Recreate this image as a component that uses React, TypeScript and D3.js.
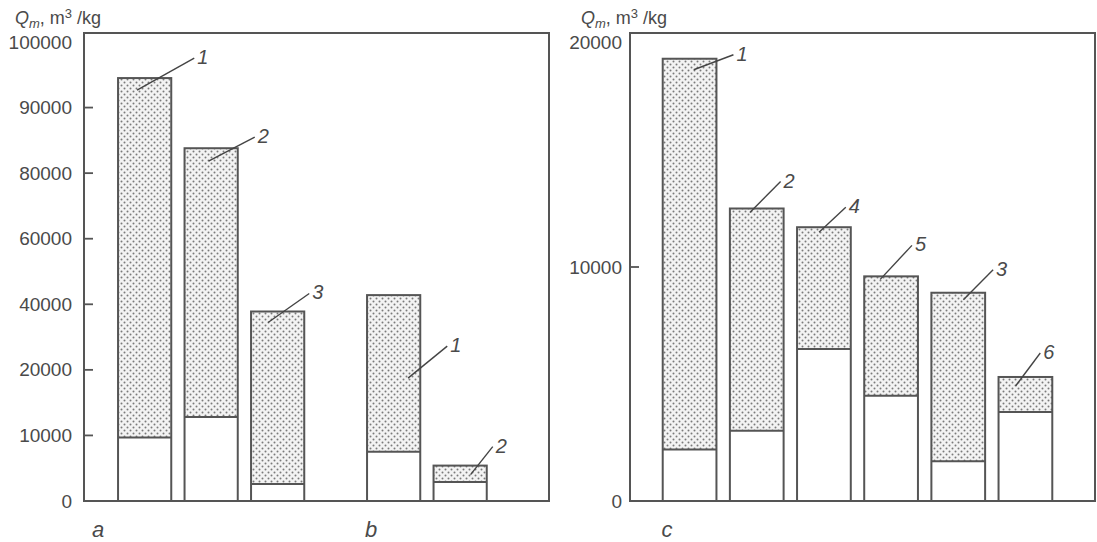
import React, { useEffect, useRef } from 'react';
import * as d3 from 'd3';

// panel a / b (left)
const leftTicks = [0, 10000, 20000, 40000, 60000, 80000, 90000, 100000];
const groupALabels = ['1', '2', '3'];
const groupATotal = [94500, 83800, 37800];
const groupABase = [9700, 12800, 2600];
const groupBLabels = ['1', '2'];
const groupBTotal = [42800, 5400];
const groupBBase = [7500, 2900];

// panel c (right)
const rightTicks = [0, 10000, 20000];
const groupCLabels = ['1', '2', '4', '5', '3', '6'];
const groupCTotal = [18900, 12500, 11700, 9600, 8900, 5300];
const groupCBase = [2200, 3000, 6500, 4500, 1700, 3800];

// leader line offsets: [start dx from bar left, start dy from top, end dx from bar right, end dy from top]
const leaderA = [[19, 12, 23, -20], [24, 13, 17, -11], [17, 11, 5, -18]];
const leaderB = [[41, 83, 27, 51], [37, 9, 6, -19]];
const leaderC = [[31, 11, 17, -4], [20, 4, -3, -27], [22, 5, -5, -20], [16, 3, -6, -31], [32, 7, 8, -23], [17, 9, -12, -24]];

const W = 1097, H = 542;
const font = '"Liberation Sans", Arial, sans-serif';
const ink = '#4a4a4a';

const App = () => {
    const svgRef = useRef(null);

    useEffect(() => {
        const svg = d3.select(svgRef.current);
        svg.selectAll('*').remove();

        // dotted fill
        const pat = svg.append('defs').append('pattern')
            .attr('id', 'dots')
            .attr('patternUnits', 'userSpaceOnUse')
            .attr('width', 6).attr('height', 6);
        pat.append('rect').attr('width', 6).attr('height', 6).attr('fill', '#f3f3f3');
        pat.append('circle').attr('cx', 1.5).attr('cy', 1.5).attr('r', 1).attr('fill', '#7a7a7a');
        pat.append('circle').attr('cx', 4.5).attr('cy', 4.5).attr('r', 1).attr('fill', '#7a7a7a');

        const bottom = 501, top = 33, topTick = 42;

        const drawTitle = (x) => {
            const t = svg.append('text')
                .attr('x', x).attr('y', 24)
                .style('font-family', font).style('font-size', '18px').attr('fill', ink);
            t.append('tspan').text('Q').style('font-style', 'italic');
            t.append('tspan').text('m').style('font-style', 'italic').style('font-size', '13px').attr('dy', 4);
            t.append('tspan').text(', m').attr('dy', -4);
            t.append('tspan').text('3').style('font-size', '13px').attr('dy', -6);
            t.append('tspan').text(' /kg').attr('dy', 6);
        };

        const drawFrame = (x0, x1) => {
            svg.append('rect')
                .attr('x', x0).attr('y', top)
                .attr('width', x1 - x0).attr('height', bottom - top)
                .attr('fill', 'none').attr('stroke', '#555').attr('stroke-width', 2);
        };

        const drawAxis = (y, ticks, frameX, labelX, topOffset) => {
            ticks.forEach((t, i) => {
                const last = i === ticks.length - 1;
                const yy = y(t) + (last ? topOffset : 0);
                svg.append('text')
                    .attr('x', labelX).attr('y', yy)
                    .attr('text-anchor', 'end').attr('dominant-baseline', 'central')
                    .style('font-family', font).style('font-size', '19px')
                    .attr('fill', ink).text(t);
                if (i > 0 && !last) {
                    svg.append('line')
                        .attr('x1', frameX).attr('x2', frameX + 9)
                        .attr('y1', y(t)).attr('y2', y(t))
                        .attr('stroke', '#555').attr('stroke-width', 1.8);
                }
            });
        };

        const drawBars = (x, y, labels, total, base, leaders) => {
            const bw = x.bandwidth();
            labels.forEach((lab, i) => {
                const key = i + ':' + lab;
                const bx = x(key);
                const yt = y(total[i]);
                const yb = y(base[i]);
                const y0 = y(0);
                svg.append('rect')
                    .attr('x', bx).attr('y', yb).attr('width', bw).attr('height', y0 - yb)
                    .attr('fill', '#fff');
                svg.append('rect')
                    .attr('x', bx).attr('y', yt).attr('width', bw).attr('height', yb - yt)
                    .attr('fill', 'url(#dots)');
                svg.append('line')
                    .attr('x1', bx).attr('x2', bx + bw).attr('y1', yb).attr('y2', yb)
                    .attr('stroke', '#555').attr('stroke-width', 2);
                svg.append('rect')
                    .attr('x', bx).attr('y', yt).attr('width', bw).attr('height', y0 - yt)
                    .attr('fill', 'none').attr('stroke', '#555').attr('stroke-width', 2);

                const [sx, sy, ex, ey] = leaders[i];
                svg.append('line')
                    .attr('x1', bx + sx).attr('y1', yt + sy)
                    .attr('x2', bx + bw + ex).attr('y2', yt + ey)
                    .attr('stroke', '#444').attr('stroke-width', 1.4);
                svg.append('text')
                    .attr('x', bx + bw + ex + 3).attr('y', yt + ey - 1)
                    .attr('dominant-baseline', 'central')
                    .style('font-family', font).style('font-size', '20px').style('font-style', 'italic')
                    .attr('fill', ink).text(lab);
            });
        };

        const panelLetter = (x, txt) => {
            svg.append('text')
                .attr('x', x).attr('y', 529)
                .attr('text-anchor', 'middle').attr('dominant-baseline', 'central')
                .style('font-family', font).style('font-size', '22px').style('font-style', 'italic')
                .attr('fill', ink).text(txt);
        };

        // ---------- left panel (a, b) ----------
        const yLeft = d3.scaleLinear()
            .domain(leftTicks)
            .range(leftTicks.map((_, i) => bottom - i * (bottom - topTick) / (leftTicks.length - 1)));

        const xA = d3.scaleBand()
            .domain(groupALabels.map((d, i) => i + ':' + d))
            .range([111.4, 310.9])
            .paddingInner(0.2).paddingOuter(0.1);
        const xB = d3.scaleBand()
            .domain(groupBLabels.map((d, i) => i + ':' + d))
            .range([360.4, 493.4])
            .paddingInner(0.2).paddingOuter(0.1);

        drawTitle(15);
        drawAxis(yLeft, leftTicks, 84, 72, 0);
        drawBars(xA, yLeft, groupALabels, groupATotal, groupABase, leaderA);
        drawBars(xB, yLeft, groupBLabels, groupBTotal, groupBBase, leaderB);
        drawFrame(84, 549);
        panelLetter(98, 'a');
        panelLetter(371, 'b');

        // ---------- right panel (c) ----------
        const yRight = d3.scaleLinear().domain([0, 20000]).range([bottom, top]);
        const xC = d3.scaleBand()
            .domain(groupCLabels.map((d, i) => i + ':' + d))
            .range([656, 1059])
            .paddingInner(0.2).paddingOuter(0.1);

        drawTitle(581);
        drawAxis(yRight, rightTicks, 630, 622, 9);
        drawBars(xC, yRight, groupCLabels, groupCTotal, groupCBase, leaderC);
        drawFrame(630, 1095);
        panelLetter(667, 'c');
    }, []);

    return (
        <svg ref={svgRef} width={W} height={H}
            style={{ position: 'absolute', left: 0, top: 0, background: '#fff' }} />
    );
};

export default App;
